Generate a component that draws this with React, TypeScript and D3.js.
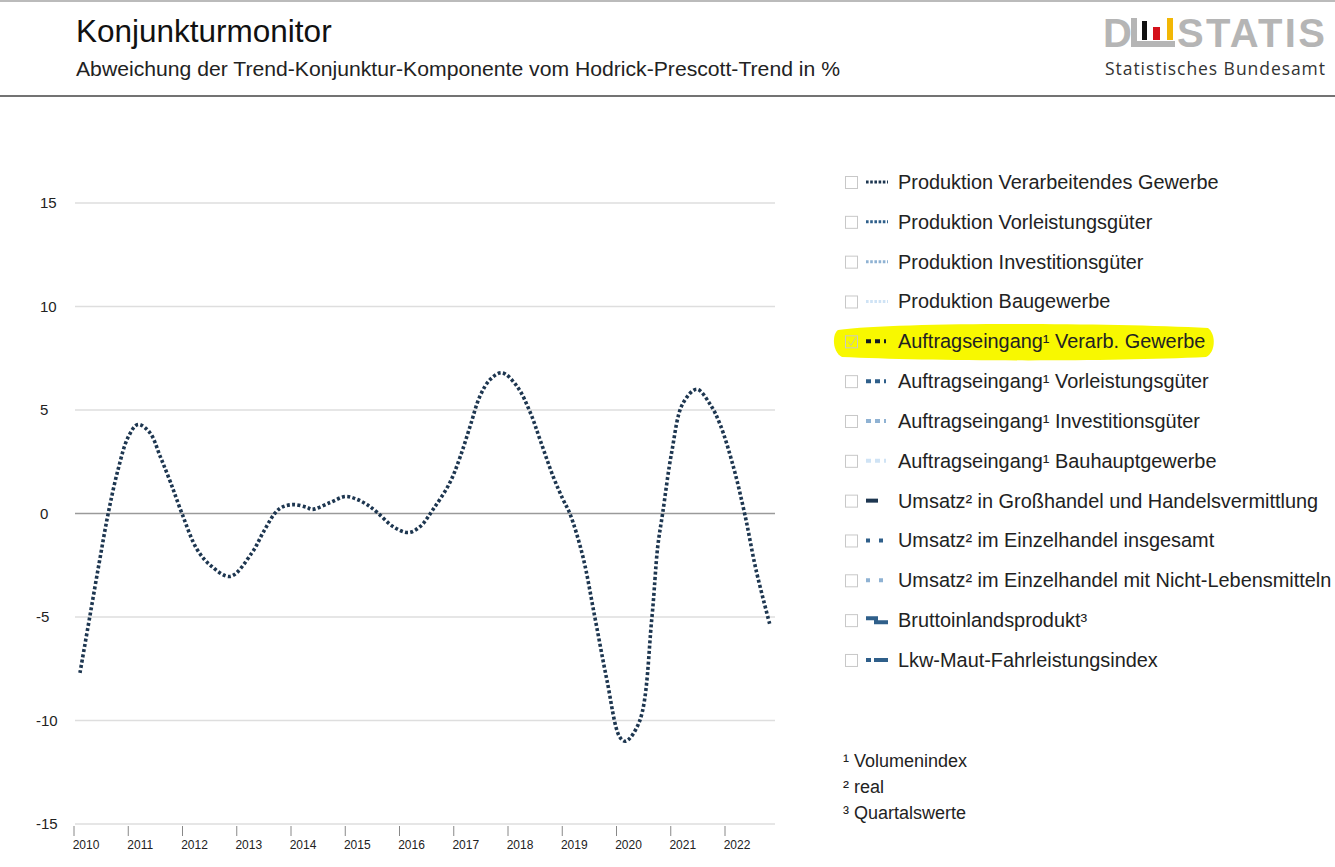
import React from "react";
import * as d3 from "d3";

const yearTicks = [2010, 2011, 2012, 2013, 2014, 2015, 2016, 2017, 2018, 2019, 2020, 2021, 2022];
const yTicks = [15, 10, 5, 0, -5, -10, -15];

const seriesT = [
  2010.11, 2010.29, 2010.47, 2010.63, 2010.81, 2011.0, 2011.18, 2011.4, 2011.59, 2011.78, 2011.99,
  2012.27, 2012.54, 2012.88, 2013.28, 2013.49, 2013.7, 2013.83, 2014.04, 2014.29, 2014.39, 2014.72,
  2015.0, 2015.2, 2015.4, 2015.59, 2015.88, 2016.16, 2016.38, 2016.62, 2016.93, 2017.12, 2017.3,
  2017.48, 2017.67, 2017.89, 2018.17, 2018.41, 2018.59, 2018.83, 2019.01, 2019.14, 2019.38, 2019.6,
  2019.82, 2020.06, 2020.17, 2020.43, 2020.65, 2020.76, 2020.85, 2021.02, 2021.22, 2021.48, 2021.72,
  2021.91, 2022.15, 2022.37, 2022.57, 2022.83,
];
const seriesV = [
  -7.7, -5.0, -2.3, 0, 2.1, 3.7, 4.3, 3.9, 2.75, 1.5, 0,
  -1.74, -2.56, -3.04, -1.9, -0.9, 0, 0.3, 0.43, 0.3, 0.2, 0.53,
  0.82, 0.7, 0.43, 0.05, -0.63, -0.92, -0.63, 0.2, 1.5, 2.75, 4.2,
  5.65, 6.47, 6.8, 6.13, 4.88, 3.57, 1.8, 0.7, 0, -2.08, -5.0,
  -8.0, -10.8, -11.0, -10.0, -5.1, -1.6, 0, 3.0, 5.3, 6.0, 5.3,
  4.3, 2.3, -0.1, -2.7, -5.4,
];

const legendLabels = [
  "Produktion Verarbeitendes Gewerbe",
  "Produktion Vorleistungsgüter",
  "Produktion Investitionsgüter",
  "Produktion Baugewerbe",
  "Auftragseingang¹ Verarb. Gewerbe",
  "Auftragseingang¹ Vorleistungsgüter",
  "Auftragseingang¹ Investitionsgüter",
  "Auftragseingang¹ Bauhauptgewerbe",
  "Umsatz² in Großhandel und Handelsvermittlung",
  "Umsatz² im Einzelhandel insgesamt",
  "Umsatz² im Einzelhandel mit Nicht-Lebensmitteln",
  "Bruttoinlandsprodukt³",
  "Lkw-Maut-Fahrleistungsindex",
];
const footnotes = ["¹ Volumenindex", "² real", "³ Quartalswerte"];

// symbol styles: [kind, color]
const legendSymbols: [string, string][] = [
  ["dot", "#1d3650"],
  ["dot", "#2f5f8a"],
  ["dot", "#8fb2d3"],
  ["dot", "#cfe3f5"],
  ["dash", "#111a22"],
  ["dash", "#2f5f8a"],
  ["dash", "#8fb2d3"],
  ["dash", "#cfe3f5"],
  ["solid", "#1d3650"],
  ["sparse", "#2f5f8a"],
  ["sparse", "#8fb2d3"],
  ["step", "#2f5f8a"],
  ["longdash", "#2f5f8a"],
];

const FONT = "'Liberation Sans', Arial, sans-serif";

function Symbol({ kind, color, x, y }: { kind: string; color: string; x: number; y: number }) {
  if (kind === "dot")
    return <line x1={x} x2={x + 22} y1={y} y2={y} stroke={color} strokeWidth={3} strokeDasharray="2.6 1.6" />;
  if (kind === "dash")
    return <line x1={x} x2={x + 20} y1={y} y2={y} stroke={color} strokeWidth={4} strokeDasharray="5 4" />;
  if (kind === "solid")
    return <line x1={x} x2={x + 12} y1={y} y2={y} stroke={color} strokeWidth={4} />;
  if (kind === "sparse")
    return <line x1={x} x2={x + 18} y1={y} y2={y} stroke={color} strokeWidth={4} strokeDasharray="4 9" />;
  if (kind === "step")
    return (
      <path
        d={`M${x},${y - 2} L${x + 10},${y - 2} L${x + 10},${y + 2} L${x + 22},${y + 2}`}
        fill="none"
        stroke={color}
        strokeWidth={4}
      />
    );
  return <line x1={x} x2={x + 22} y1={y} y2={y} stroke={color} strokeWidth={4} strokeDasharray="5 3 9 0" />;
}

export default function App() {
  const x = d3.scaleLinear().domain([2010, 2022]).range([74, 725]);
  const y = d3.scaleLinear().domain([-15, 15]).range([824, 203]);
  const data = seriesT.map((t, i) => [t, seriesV[i]] as [number, number]);
  const line = d3
    .line<[number, number]>()
    .x((d) => x(d[0]))
    .y((d) => y(d[1]))
    .curve(d3.curveCatmullRom.alpha(0.5));

  const legendY0 = 182;
  const legendStep = 39.83;

  return (
    <svg
      width={1335}
      height={867}
      style={{ position: "fixed", left: 0, top: 0, background: "#fff" }}
      fontFamily={FONT}
    >
      <rect x={0} y={0} width={1335} height={867} fill="#fff" />
      <line x1={0} x2={1335} y1={1} y2={1} stroke="#bbb" strokeWidth={2} />
      <text x={76} y={42} fontSize={31.5} fill="#111">Konjunkturmonitor</text>
      <text x={76} y={76} fontSize={20.5} fill="#222" textLength={764} lengthAdjust="spacingAndGlyphs">
        Abweichung der Trend-Konjunktur-Komponente vom Hodrick-Prescott-Trend in %
      </text>
      <line x1={0} x2={1335} y1={96} y2={96} stroke="#444" strokeWidth={1.5} />

      {/* logo */}
      <g>
        <text x={1103} y={47} fontSize={40} fontWeight="bold" fill="#b5b5b5">D</text>
        <rect x={1131} y={18} width={6} height={29} fill="#b5b5b5" />
        <rect x={1131} y={41} width={44} height={6} fill="#b5b5b5" />
        <rect x={1142} y={21} width={5} height={19} fill="#111" />
        <rect x={1153} y={27} width={7} height={13} fill="#d4111b" />
        <rect x={1167} y={18} width={6} height={22} fill="#f2b705" />
        <text x={1177} y={47} fontSize={40} fontWeight="bold" fill="#b5b5b5" textLength={148}>STATIS</text>
        <text x={1105} y={75} fontSize={17.5} fill="#333" fontFamily="'Open Sans', sans-serif" textLength={220}>
          Statistisches Bundesamt
        </text>
      </g>

      {/* grid */}
      {yTicks.map((t) => (
        <g key={t}>
          <line
            x1={75}
            x2={775}
            y1={y(t)}
            y2={y(t)}
            stroke={t === 0 ? "#9a9a9a" : "#dedede"}
            strokeWidth={t === 0 ? 1.5 : 1.3}
          />
          <text x={t < 0 ? 36 : 40} y={y(t) + 5} fontSize={15} fill="#222">
            {t}
          </text>
        </g>
      ))}
      {yearTicks.map((yr) => (
        <g key={yr}>
          <line x1={x(yr)} x2={x(yr)} y1={826} y2={836} stroke="#888" strokeWidth={1} />
          <text x={x(yr) + 12} y={849} fontSize={12} fill="#222" textAnchor="middle">
            {yr}
          </text>
        </g>
      ))}

      <path
        d={line(data) || ""}
        fill="none"
        stroke="#1d3650"
        strokeWidth={3.6}
        strokeDasharray="3 2.3"
      />

      {/* highlight */}
      <path
        d="M838,330 C900,322 1100,323 1208,328 C1216,334 1216,352 1206,357 C1100,362 930,361 842,357 C832,352 832,334 838,330 Z"
        fill="#f8f800"
      />

      {legendLabels.map((lab, i) => {
        const cy = legendY0 + i * legendStep;
        const [kind, color] = legendSymbols[i];
        return (
          <g key={lab}>
            <rect x={845.5} y={cy - 5.5} width={12} height={12} fill="none" stroke="#c8c8c8" strokeWidth={1} />
            {i === 4 && (
              <path d={`M848,${cy} L851,${cy + 4} L856,${cy - 4}`} fill="none" stroke="#c8c8a0" strokeWidth={1} />
            )}
            <Symbol kind={kind} color={color} x={866} y={cy} />
            <text x={898} y={cy + 7} fontSize={19.9} fill="#222">
              {lab}
            </text>
          </g>
        );
      })}

      {footnotes.map((f, i) => (
        <text key={f} x={843} y={767 + i * 26} fontSize={18} fill="#222">
          {f}
        </text>
      ))}
    </svg>
  );
}
